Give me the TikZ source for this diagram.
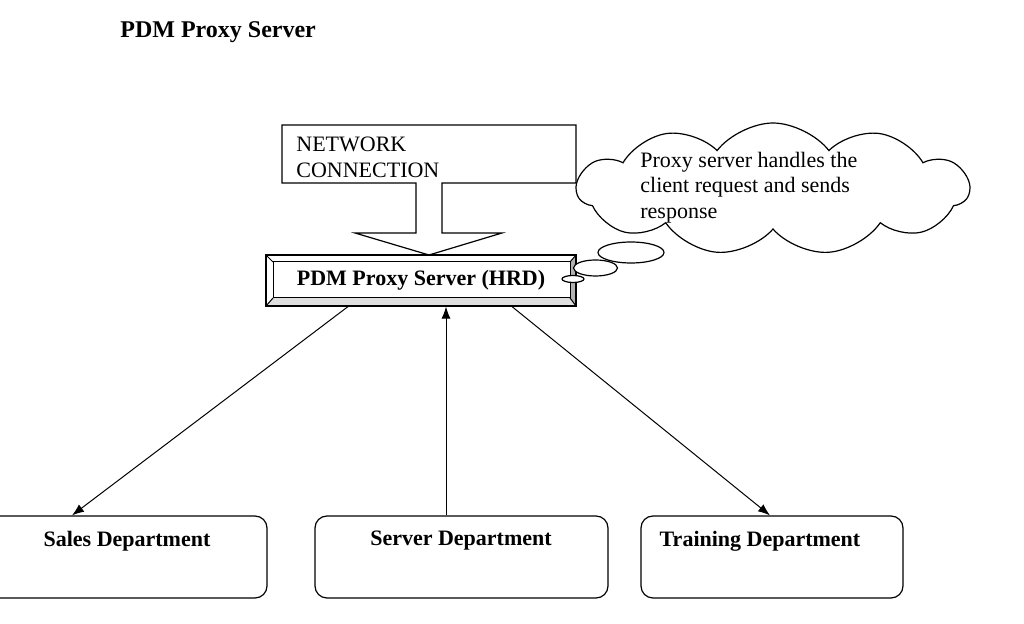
\documentclass[tikz,border=0pt]{standalone}
\usepackage{fontspec}
\setmainfont{Liberation Serif}
\usetikzlibrary{shapes.symbols, arrows.meta, positioning}
\tikzset{
  deptbox/.style={draw, rounded corners=6pt, minimum height=41pt, line width=0.6pt},
  deptlbl/.style={font=\fontsize{11}{13}\selectfont\bfseries, inner sep=0pt},
  plain/.style={font=\fontsize{11}{12.75}\selectfont, align=left, anchor=west, inner sep=0pt},
  link/.style={line width=0.5pt, -{Latex[length=6pt,width=4.5pt]}},
}
\begin{document}
\begin{tikzpicture}[x=0.5pt,y=-0.5pt]
\useasboundingbox (0,0) rectangle (1024,624);
% title
\node[font=\fontsize{12}{14}\selectfont\bfseries, anchor=west, inner sep=0pt] (title) at (120,32) {PDM Proxy Server};
% network connection (block arrow)
\draw[line width=0.6pt] (282,125) -- (576,125) -- (576,183) -- (442,183) -- (442,233) -- (502,233)
  -- (429,255) -- (355,233) -- (416,233) -- (416,183) -- (282,183) -- cycle;
\node[plain] (netlbl) at (296,157.5) {NETWORK\\CONNECTION};
% proxy server box with bevel
\fill[gray!60] (570,262) -- (576,255) -- (576,306) -- (570,298) -- cycle;
\fill[gray!25] (273,298) -- (570,298) -- (576,306) -- (266,306) -- cycle;
\node[draw, line width=0.6pt, minimum width=155pt, minimum height=25.5pt, font=\fontsize{11}{13}\selectfont\bfseries] (hrd) at (421,280.5) {PDM Proxy Server (HRD)};
\draw[line width=0.5pt] (273,262) rectangle (570,298);
\foreach \ax/\ay/\bx/\by in {266/255/273/262, 576/255/570/262, 266/306/273/298, 576/306/570/298}
  \draw[line width=0.5pt] (\ax,\ay) -- (\bx,\by);
% cloud callout
\node[cloud, draw, fill=white, line width=0.6pt, cloud puffs=11, cloud puff arc=105, cloud ignores aspect,
  minimum width=196pt, minimum height=66pt, inner sep=0pt] (bubble) at (773,189) {};
\node[plain] (bubbletxt) at (640,187.5) {Proxy server handles the\\client request and sends\\response};
\draw[fill=white, line width=0.6pt] (631,252.5) ellipse [x radius=33, y radius=10.5];
\draw[fill=white, line width=0.6pt] (595.5,268) ellipse [x radius=22, y radius=8];
\draw[fill=white, line width=0.6pt] (573,279) ellipse [x radius=11, y radius=3.5];
% departments
\foreach \name/\cx/\w/\lx/\txt in {sales/127.5/139.5/127/Sales Department,
    server/461.5/146.5/461/Server Department, training/772/131/760/Training Department} {
  \node[deptbox, minimum width=\w pt] (\name) at (\cx,557) {};
  \node[deptlbl] (\name lbl) at (\lx,541) {\txt};
}
% connectors
\draw[link] ([xshift=-36.5pt]hrd.south) -- ([xshift=-27.75pt]sales.north);
\draw[link] ([xshift=-7.75pt]server.north) -- ([xshift=12.5pt]hrd.south);
\draw[link] ([xshift=45.5pt]hrd.south) -- ([xshift=-1pt]training.north);
\end{tikzpicture}
\end{document}
